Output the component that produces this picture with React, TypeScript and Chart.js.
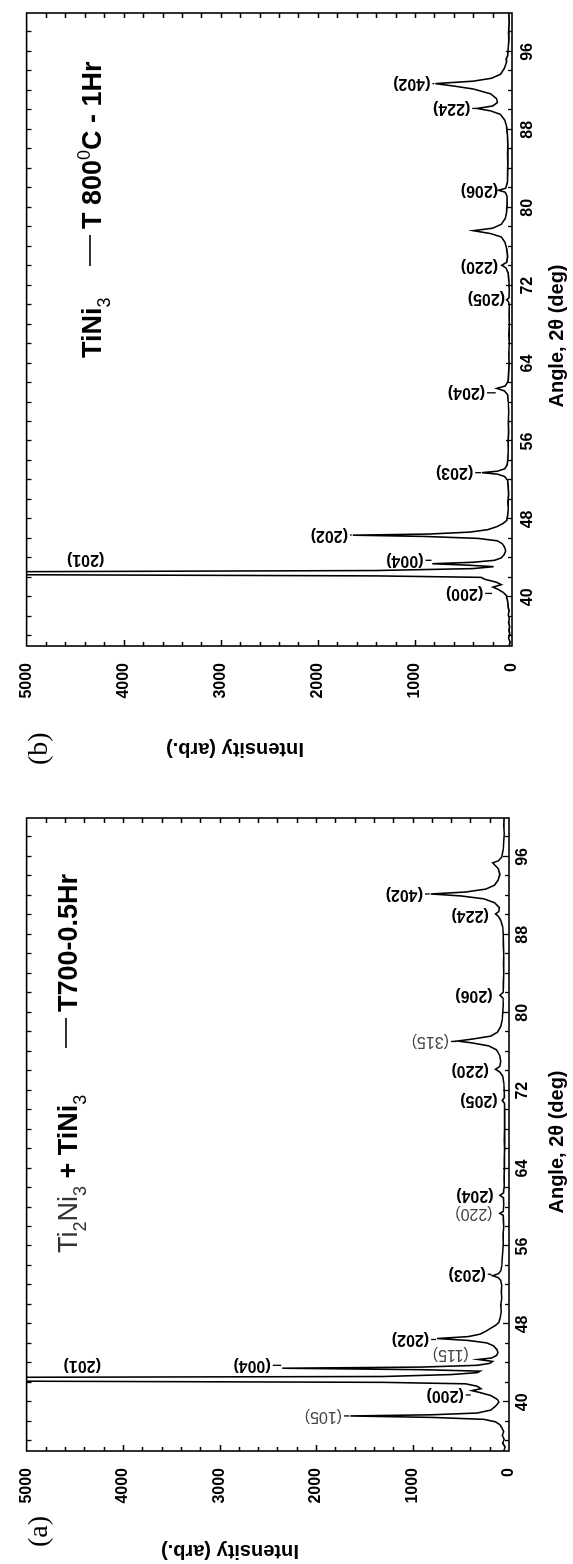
import React, { useEffect, useRef } from "react";
import { Chart, registerables } from "chart.js";

Chart.register(...registerables);

// ---------- axis ticks ----------
const angleTickLabels = [40, 48, 56, 64, 72, 80, 88, 96];
const intensityTickLabels = [0, 1000, 2000, 3000, 4000, 5000];

// ---------- (a) T700-0.5Hr scan: [2θ, intensity] ----------
const scanA: [number, number][] = [
  [35.0, 55], [35.4, 40], [35.8, 65], [36.2, 50], [36.6, 70], [37.0, 55], [37.4, 75], [37.7, 95],
  [38.0, 140], [38.25, 260], [38.45, 800], [38.6, 1645], [38.72, 800], [38.9, 330], [39.2, 190],
  [39.6, 140], [40.0, 105], [40.3, 120], [40.7, 190], [41.0, 300], [41.2, 385], [41.4, 290],
  [41.65, 330], [41.9, 450], [42.05, 1300], [42.2, 6000], [42.55, 6000], [42.65, 1300], [42.85, 600],
  [43.05, 330], [43.2, 300], [43.35, 900], [43.5, 2350], [43.62, 900], [43.8, 330], [44.0, 200],
  [44.2, 170], [44.4, 320], [44.55, 180], [44.8, 130], [45.1, 115], [45.4, 125], [45.8, 160],
  [46.1, 230], [46.35, 420], [46.55, 745], [46.75, 420], [47.0, 300], [47.3, 240], [47.6, 190],
  [47.9, 140], [48.2, 105], [48.7, 90], [49.3, 80], [50.0, 85], [50.7, 75], [51.4, 80], [52.0, 75],
  [52.5, 85], [52.8, 110], [53.0, 170], [53.2, 110], [53.5, 85], [54.0, 75], [54.8, 70], [55.5, 65],
  [56.3, 60], [57.2, 62], [58.0, 55], [58.7, 58], [59.2, 60], [59.4, 95], [59.6, 60], [60.3, 55],
  [61.0, 58], [61.25, 95], [61.5, 58], [62.2, 50], [63.0, 52], [64.0, 48], [65.0, 50], [66.0, 45],
  [67.0, 48], [68.0, 45], [69.0, 47], [70.0, 45], [70.7, 48], [71.0, 70], [71.3, 48], [72.0, 50],
  [72.8, 55], [73.5, 65], [73.9, 95], [74.2, 140], [74.5, 95], [75.0, 85], [75.6, 95], [76.2, 130],
  [76.6, 210], [76.9, 380], [77.1, 532], [77.3, 380], [77.6, 190], [78.0, 120], [78.6, 85], [79.3, 70],
  [80.0, 65], [80.8, 60], [81.5, 62], [81.8, 95], [82.1, 60], [83.0, 58], [84.0, 55], [85.0, 57],
  [86.0, 55], [87.0, 58], [88.0, 60], [88.8, 65], [89.5, 85], [89.9, 110], [90.15, 140], [90.4, 105],
  [90.8, 100], [91.3, 150], [91.7, 260], [92.0, 500], [92.2, 810], [92.4, 450], [92.7, 240],
  [93.1, 150], [93.6, 115], [94.2, 95], [94.8, 110], [95.2, 150], [95.4, 170], [95.6, 110], [96.0, 75],
  [96.8, 60], [97.6, 55], [98.4, 50], [99.2, 55], [100.0, 50],
];

// ---------- (b) T800°C-1Hr scan: [2θ, intensity] ----------
const scanB: [number, number][] = [
  [35.0, 30], [35.4, 20], [35.8, 35], [36.2, 22], [36.6, 32], [37.0, 25], [37.4, 35], [37.8, 28],
  [38.2, 38], [38.6, 30], [39.0, 40], [39.4, 42], [39.8, 50], [40.2, 60], [40.5, 90], [40.8, 140],
  [41.05, 195], [41.3, 110], [41.55, 160], [41.85, 280], [42.05, 320], [42.2, 1400], [42.35, 6000],
  [42.6, 6000], [42.75, 1400], [42.95, 400], [43.15, 190], [43.3, 450], [43.45, 820], [43.6, 400],
  [43.8, 180], [44.05, 110], [44.4, 80], [44.8, 65], [45.2, 80], [45.5, 100], [45.8, 150],
  [46.05, 350], [46.25, 900], [46.38, 1640], [46.5, 850], [46.7, 430], [46.95, 250], [47.25, 157],
  [47.6, 90], [47.9, 55], [48.4, 45], [49.0, 38], [49.8, 42], [50.6, 35], [51.4, 40], [52.0, 45],
  [52.4, 75], [52.65, 150], [52.8, 310], [52.95, 150], [53.2, 75], [53.6, 50], [54.3, 42], [55.0, 38],
  [56.0, 40], [57.0, 35], [58.0, 38], [59.0, 33], [60.0, 38], [60.8, 45], [61.2, 80], [61.45, 157],
  [61.7, 70], [62.2, 40], [63.0, 35], [64.0, 30], [65.0, 33], [66.0, 28], [67.0, 32], [68.0, 28],
  [69.0, 30], [70.0, 28], [70.35, 35], [70.55, 55], [70.75, 32], [71.5, 28], [72.5, 32], [73.3, 40],
  [73.8, 60], [74.1, 105], [74.4, 55], [75.0, 45], [75.8, 55], [76.5, 75], [77.0, 110], [77.35, 220],
  [77.65, 400], [77.9, 200], [78.3, 110], [78.9, 70], [79.6, 55], [80.4, 50], [81.2, 52], [81.6, 70],
  [81.8, 140], [82.0, 65], [82.6, 48], [83.5, 45], [84.5, 42], [85.5, 45], [86.5, 42], [87.5, 48],
  [88.3, 55], [89.0, 75], [89.6, 120], [89.95, 220], [90.2, 360], [90.45, 200], [90.8, 150],
  [91.2, 160], [91.7, 220], [92.2, 400], [92.5, 600], [92.75, 790], [93.0, 400], [93.3, 210],
  [93.7, 120], [94.3, 80], [95.0, 55], [95.3, 60], [95.6, 45], [96.4, 38], [97.2, 32], [98.0, 35],
  [99.0, 30], [100.0, 32],
];

// ---------- peak labels (a) ----------
const peakTextA = ["(105)", "(200)", "(201)", "(004)", "(115)", "(202)", "(203)", "(220)", "(204)", "(205)", "(220)", "(315)", "(206)", "(224)", "(402)"];
const peakAngleA = [38.6, 40.75, 43.8, 43.8, 44.95, 46.45, 53.15, 59.4, 61.25, 71.0, 74.1, 77.05, 81.8, 90.0, 92.2];
const peakStartA = [1730, 468, 4230, 2470, 416, 828, 240, 170, 160, 118, 210, 622, 170, 210, 892];
const peakTipA: (number | null)[] = [1645, 385, null, 2350, null, 745, 170, null, null, null, null, 532, null, null, 810];
const peakTi2Ni3A = [true, false, false, false, true, false, false, true, false, false, false, true, false, false, false];

// ---------- peak labels (b) ----------
const peakTextB = ["(200)", "(201)", "(004)", "(202)", "(203)", "(204)", "(205)", "(220)", "(206)", "(224)", "(402)"];
const peakAngleB = [40.4, 43.9, 43.8, 46.4, 52.8, 61.0, 70.7, 74.0, 81.8, 90.2, 92.75];
const peakStartB = [297, 4200, 912, 1690, 400, 277, 72, 144, 144, 430, 840];
const peakTipB: (number | null)[] = [195, null, 820, 1640, 310, 157, null, null, null, 360, 790];
const peakTi2Ni3B = [false, false, false, false, false, false, false, false, false, false, false];

const SANS = '"Liberation Sans", Arial, Helvetica, sans-serif';
const SERIF = '"Liberation Serif", "Times New Roman", serif';
const W = 782;
const H = 573;

type Run = { t: string; s: number; w?: string; c?: string; dy?: number };

type Panel = {
  scan: [number, number][];
  area: { left: number; right: number; top: number; bottom: number };
  letter: string;
  xTickPad: number;
  yTitle: { x: number; y: number };
  xTitle: { x: number; y: number };
  legend1: { x: number; y: number; runs: Run[] };
  legend2: { x: number; y: number; lineY: number; lineFrom: number; lineTo: number; runs: Run[] };
  labels: { text: string[]; angle: number[]; start: number[]; tip: (number | null)[]; gray: boolean[] };
};

const panelA: Panel = {
  scan: scanA,
  area: { left: 113, right: 746, top: 19, bottom: 509 },
  letter: "(a)",
  xTickPad: 4,
  yTitle: { x: 13, y: 230 },
  xTitle: { x: 422, y: 557 },
  legend1: {
    x: 311,
    y: 77,
    runs: [
      { t: "Ti", s: 27, w: "normal", c: "#333" },
      { t: "2", s: 18, w: "normal", c: "#333", dy: 9 },
      { t: "Ni", s: 27, w: "normal", c: "#333" },
      { t: "3", s: 18, w: "normal", c: "#333", dy: 9 },
      { t: " + ", s: 27, w: "bold" },
      { t: "TiNi", s: 27, w: "bold" },
      { t: "3", s: 18, w: "normal", dy: 9 },
    ],
  },
  legend2: {
    x: 552,
    y: 77,
    lineY: 66,
    lineFrom: 516,
    lineTo: 546,
    runs: [{ t: "T700-0.5Hr", s: 27, w: "bold" }],
  },
  labels: { text: peakTextA, angle: peakAngleA, start: peakStartA, tip: peakTipA, gray: peakTi2Ni3A },
};

const panelB: Panel = {
  scan: scanB,
  area: { left: 136, right: 769, top: 23, bottom: 512 },
  letter: "(b)",
  xTickPad: 6,
  yTitle: { x: 33.5, y: 235 },
  xTitle: { x: 446, y: 557 },
  legend1: {
    x: 424,
    y: 101,
    runs: [
      { t: "TiNi", s: 27, w: "bold" },
      { t: "3", s: 18, w: "normal", dy: 9 },
    ],
  },
  legend2: {
    x: 553,
    y: 101,
    lineY: 90,
    lineFrom: 516,
    lineTo: 547,
    runs: [
      { t: "T 800", s: 27, w: "bold" },
      { t: "0", s: 18, w: "normal", dy: -11 },
      { t: "C - 1Hr", s: 27, w: "bold" },
    ],
  },
  labels: { text: peakTextB, angle: peakAngleB, start: peakStartB, tip: peakTipB, gray: peakTi2Ni3B },
};

function drawRuns(ctx: CanvasRenderingContext2D, x: number, y: number, runs: Run[]) {
  let cx = x;
  ctx.textAlign = "left";
  ctx.textBaseline = "alphabetic";
  for (const r of runs) {
    ctx.font = `${r.w || "bold"} ${r.s}px ${SANS}`;
    ctx.fillStyle = r.c || "#000";
    ctx.fillText(r.t, cx, y + (r.dy || 0));
    cx += ctx.measureText(r.t).width;
  }
  return cx;
}

function makeChart(canvas: HTMLCanvasElement, p: Panel) {
  const decor = {
    id: "decor",
    afterDraw(chart: any) {
      const ctx: CanvasRenderingContext2D = chart.ctx;
      const { left, right, top, bottom } = chart.chartArea;
      const xs = chart.scales.x;
      const ys = chart.scales.y;
      ctx.save();
      ctx.strokeStyle = "#000";
      ctx.lineWidth = 1.6;
      ctx.strokeRect(left, top, right - left, bottom - top);

      ctx.lineWidth = 1.3;
      ctx.beginPath();
      for (let a = 36; a < 100; a += 2) {
        const px = Math.round(xs.getPixelForValue(a)) + 0.5;
        const major = angleTickLabels.includes(a);
        ctx.moveTo(px, bottom);
        ctx.lineTo(px, bottom - (major ? 6 : 4));
        ctx.moveTo(px, top);
        ctx.lineTo(px, top + 5);
      }
      for (let v = 200; v < 5000; v += 200) {
        const py = Math.round(ys.getPixelForValue(v)) + 0.5;
        const major = intensityTickLabels.includes(v);
        ctx.moveTo(left, py);
        ctx.lineTo(left + (major ? 6 : 4), py);
        ctx.moveTo(right, py);
        ctx.lineTo(right - 5, py);
      }
      ctx.stroke();

      // peak labels
      const L = p.labels;
      for (let i = 0; i < L.text.length; i++) {
        const x = xs.getPixelForValue(L.angle[i]);
        const y0 = ys.getPixelForValue(L.start[i]);
        const tip = L.tip[i];
        if (tip !== null) {
          const yt = ys.getPixelForValue(tip);
          if (yt - 1 > y0 + 2) {
            ctx.beginPath();
            ctx.lineWidth = 1.3;
            ctx.moveTo(x, y0 + 2);
            ctx.lineTo(x, yt - 1);
            ctx.stroke();
          }
        }
        ctx.save();
        ctx.translate(x, y0);
        ctx.rotate(-Math.PI / 2);
        ctx.textAlign = "left";
        ctx.textBaseline = "middle";
        ctx.font = L.gray[i] ? `normal 16px ${SANS}` : `bold 16px ${SANS}`;
        ctx.fillStyle = L.gray[i] ? "#444" : "#000";
        ctx.fillText(L.text[i], 0, 0);
        ctx.restore();
      }

      // legends
      drawRuns(ctx, p.legend1.x, p.legend1.y, p.legend1.runs);
      ctx.beginPath();
      ctx.lineWidth = 1.6;
      ctx.strokeStyle = "#000";
      ctx.moveTo(p.legend2.lineFrom, p.legend2.lineY);
      ctx.lineTo(p.legend2.lineTo, p.legend2.lineY);
      ctx.stroke();
      drawRuns(ctx, p.legend2.x, p.legend2.y, p.legend2.runs);

      // panel letter
      ctx.font = `normal 28px ${SERIF}`;
      ctx.fillStyle = "#000";
      ctx.textAlign = "left";
      ctx.textBaseline = "alphabetic";
      ctx.fillText(p.letter, 17, 47);

      // axis titles
      ctx.font = `bold 20px ${SANS}`;
      ctx.textAlign = "center";
      ctx.textBaseline = "middle";
      ctx.fillText("Angle, 2\u03B8 (deg)", p.xTitle.x, p.xTitle.y);
      ctx.save();
      ctx.translate(p.yTitle.x, p.yTitle.y);
      ctx.rotate(-Math.PI / 2);
      ctx.fillText("Intensity (arb.)", 0, 0);
      ctx.restore();

      ctx.restore();
    },
  };

  const tickFont = { family: SANS, size: 16, weight: "bold" as const };

  return new Chart(canvas, {
    type: "line",
    data: {
      datasets: [
        {
          data: p.scan.map(([a, v]) => ({ x: a, y: v })),
          borderColor: "#000",
          borderWidth: 1.6,
          pointRadius: 0,
          tension: 0,
          fill: false,
        },
      ],
    },
    options: {
      animation: false,
      responsive: false,
      maintainAspectRatio: false,
      devicePixelRatio: 1,
      layout: { padding: { left: 0, top: p.area.top, right: W - p.area.right, bottom: 0 } },
      plugins: { legend: { display: false }, tooltip: { enabled: false }, title: { display: false } },
      scales: {
        x: {
          type: "linear",
          min: 35,
          max: 100,
          afterBuildTicks: (s: any) => {
            s.ticks = angleTickLabels.map((v) => ({ value: v }));
          },
          afterFit: (s: any) => {
            s.height = H - p.area.bottom;
          },
          grid: { display: false, drawTicks: false, tickLength: 0 },
          border: { display: false },
          ticks: {
            font: tickFont,
            color: "#000",
            padding: p.xTickPad,
            maxRotation: 0,
            minRotation: 0,
            autoSkip: false,
            callback: (v: any) => String(v),
          },
        },
        y: {
          type: "linear",
          min: 0,
          max: 5000,
          afterBuildTicks: (s: any) => {
            s.ticks = intensityTickLabels.map((v) => ({ value: v }));
          },
          afterFit: (s: any) => {
            s.width = p.area.left;
          },
          grid: { display: false, drawTicks: false, tickLength: 0 },
          border: { display: false },
          ticks: {
            font: tickFont,
            color: "#000",
            padding: 17,
            autoSkip: false,
            callback: (v: any) => String(v),
          },
        },
      },
    },
    plugins: [decor],
  } as any);
}

export default function App() {
  const refA = useRef<HTMLCanvasElement>(null);
  const refB = useRef<HTMLCanvasElement>(null);

  useEffect(() => {
    const ca = makeChart(refA.current as HTMLCanvasElement, panelA);
    const cb = makeChart(refB.current as HTMLCanvasElement, panelB);
    return () => {
      ca.destroy();
      cb.destroy();
    };
  }, []);

  return (
    <div
      style={{
        position: "fixed",
        left: 0,
        top: 0,
        width: 1564,
        height: 573,
        transformOrigin: "0 0",
        transform: "translate(0px, 1564px) rotate(-90deg)",
        background: "#fff",
        display: "flex",
      }}
    >
      <canvas ref={refA} width={W} height={H} style={{ width: W, height: H, display: "block" }} />
      <canvas ref={refB} width={W} height={H} style={{ width: W, height: H, display: "block" }} />
    </div>
  );
}
